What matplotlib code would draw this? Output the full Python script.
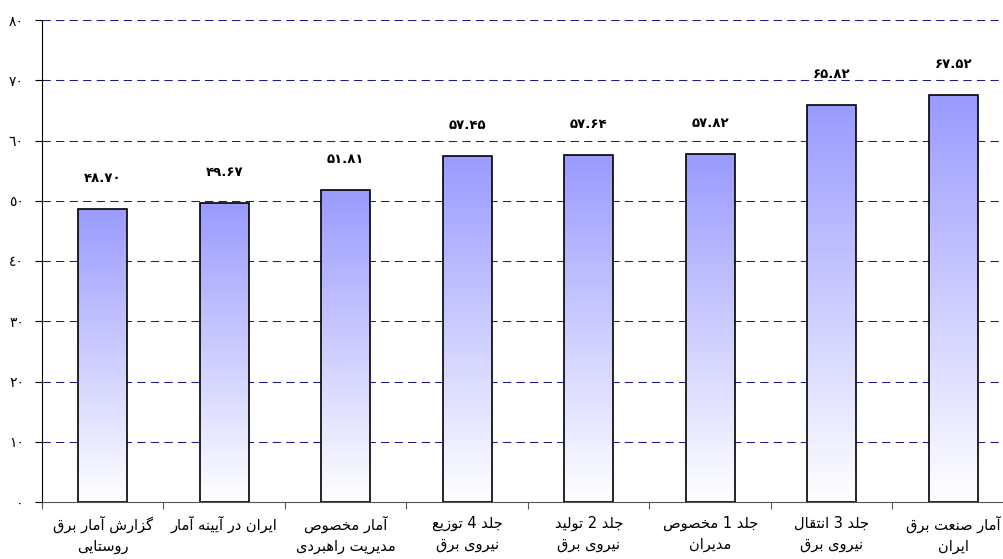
import matplotlib
matplotlib.use("Agg")
import matplotlib.pyplot as plt
import numpy as np

# data
labels = [
    ["گزارش آمار برق", "روستایی"],
    ["ایران در آیینه آمار"],
    ["آمار مخصوص", "مدیریت راهبردی"],
    ["جلد 4 توزیع", "نیروی برق"],
    ["جلد 2 تولید", "نیروی برق"],
    ["جلد 1 مخصوص", "مدیران"],
    ["جلد 3 انتقال", "نیروی برق"],
    ["آمار صنعت برق", "ایران"],
]
values = [48.70, 49.67, 51.81, 57.45, 57.64, 57.82, 65.82, 67.52]
yticks = [0, 10, 20, 30, 40, 50, 60, 70, 80]

# minimal arabic shaping: (isolated, final, initial, medial)
FORMS = {
    "ا": (0xFE8D, 0xFE8E), "آ": (0xFE81, 0xFE82), "د": (0xFEA9, 0xFEAA),
    "ر": (0xFEAD, 0xFEAE), "ز": (0xFEAF, 0xFEB0), "و": (0xFEED, 0xFEEE),
    "ب": (0xFE8F, 0xFE90, 0xFE91, 0xFE92), "ت": (0xFE95, 0xFE96, 0xFE97, 0xFE98),
    "ج": (0xFE9D, 0xFE9E, 0xFE9F, 0xFEA0), "خ": (0xFEA5, 0xFEA6, 0xFEA7, 0xFEA8),
    "س": (0xFEB1, 0xFEB2, 0xFEB3, 0xFEB4), "ش": (0xFEB5, 0xFEB6, 0xFEB7, 0xFEB8),
    "ص": (0xFEB9, 0xFEBA, 0xFEBB, 0xFEBC), "ع": (0xFEC9, 0xFECA, 0xFECB, 0xFECC),
    "ق": (0xFED5, 0xFED6, 0xFED7, 0xFED8), "ل": (0xFEDD, 0xFEDE, 0xFEDF, 0xFEE0),
    "م": (0xFEE1, 0xFEE2, 0xFEE3, 0xFEE4), "ن": (0xFEE5, 0xFEE6, 0xFEE7, 0xFEE8),
    "ه": (0xFEE9, 0xFEEA, 0xFEEB, 0xFEEC), "ی": (0xFBFC, 0xFBFD, 0xFBFE, 0xFBFF),
    "گ": (0xFB92, 0xFB93, 0xFB94, 0xFB95),
}


def shape(s):
    out = []
    for i, c in enumerate(s):
        if c not in FORMS:
            out.append(c)
            continue
        prev = s[i - 1] if i > 0 else ""
        nxt = s[i + 1] if i + 1 < len(s) else ""
        f = FORMS[c]
        jp = prev in FORMS and len(FORMS[prev]) == 4
        jn = nxt in FORMS and len(f) == 4
        if jp and jn:
            g = f[3]
        elif jp:
            g = f[1]
        elif jn:
            g = f[2]
        else:
            g = f[0]
        out.append(chr(g))
    return "".join(out[::-1])


def fa_digits(s, base=0x06F0):
    return "".join(chr(base + int(c)) if c.isdigit() else c for c in s)


fig = plt.figure(figsize=(10.04, 5.59), dpi=100)
ax = fig.add_axes([42 / 1004, 57 / 559, 972 / 1004, 482 / 559])

x = np.arange(len(values)) + 0.5
bars = ax.bar(x, values, width=0.4, facecolor="none", edgecolor="black",
              linewidth=1.2, zorder=3)

grad = np.linspace(0, 1, 256).reshape(-1, 1)
cmap = matplotlib.colors.LinearSegmentedColormap.from_list("g", ["#ffffff", "#9a9aff"])
for b in bars:
    im = ax.imshow(grad, extent=[b.get_x(), b.get_x() + b.get_width(), 0, b.get_height()],
                   origin="lower", aspect="auto", cmap=cmap, zorder=2)
    im.set_clip_path(b)

for xi, v in zip(x, values):
    ax.annotate(fa_digits(f"{v:.2f}"), (xi, v), xytext=(0, 22), textcoords="offset points",
                ha="center", va="center", fontsize=9.5, fontweight="bold")

ax.set_xlim(0, len(values))
ax.set_ylim(0, 80)
ax.set_yticks(yticks)
ax.set_yticklabels([fa_digits(str(t), 0x0660) for t in yticks], fontsize=10)
for t in yticks[1:]:
    ax.axhline(t, color="#1a1a90", linewidth=0.75, dashes=(8, 5), zorder=1)

ax.set_xticks(np.arange(len(values) + 1))
ax.set_xticklabels([])
ax.set_xticks(x, minor=True)
ax.set_xticklabels(["\n".join(shape(l) for l in lab) for lab in labels], minor=True, fontsize=10.5,
                   linespacing=1.45, va="top")
ax.tick_params(axis="x", which="minor", length=0, pad=10)
ax.tick_params(axis="x", which="major", length=5, direction="out", color="#555555")
ax.tick_params(axis="y", length=5, pad=8, direction="out")

ax.spines["top"].set_visible(False)
ax.spines["right"].set_visible(False)
ax.spines["bottom"].set_color("#555555")

fig.savefig("out.png", dpi=100)
